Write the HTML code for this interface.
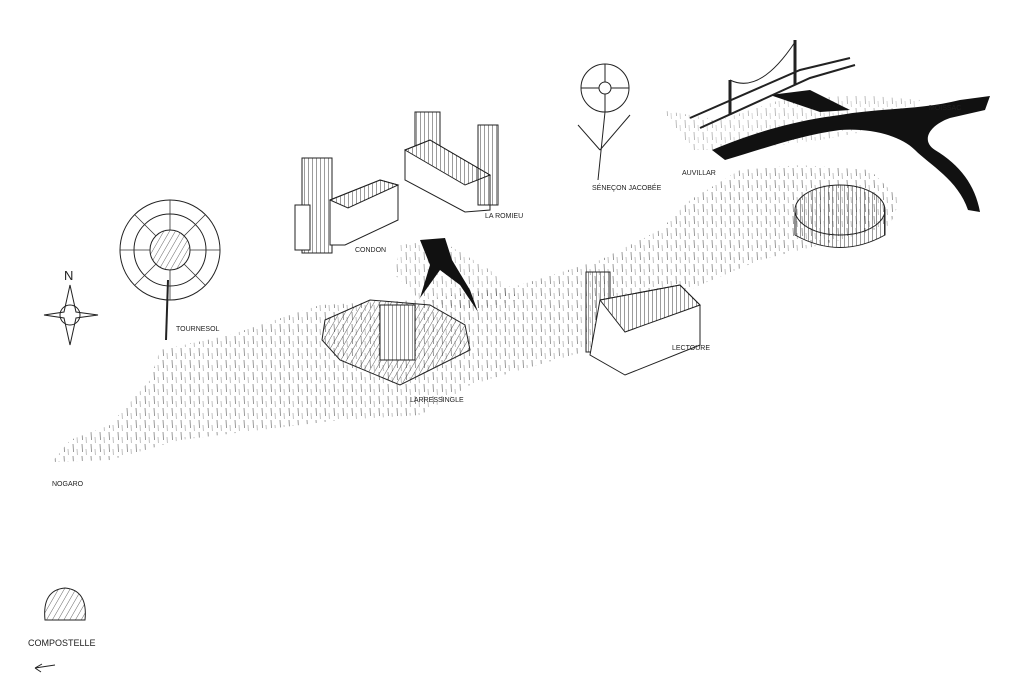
<!DOCTYPE html>
<html><head><meta charset="utf-8"><style>
html,body{margin:0;padding:0;background:#fff;}
svg{display:block}
text{font-family:"Liberation Sans",sans-serif;fill:#222}
</style></head><body>
<svg width="1024" height="683" viewBox="0 0 1024 683" xmlns="http://www.w3.org/2000/svg">
<defs>
<pattern id="h" width="9" height="12" patternUnits="userSpaceOnUse">
<line x1="1" y1="0" x2="1.5" y2="8" stroke="#333" stroke-width="0.8"/>
<line x1="5" y1="5" x2="5.3" y2="11" stroke="#555" stroke-width="0.6"/>
</pattern>
<pattern id="r" width="4" height="4" patternUnits="userSpaceOnUse">
<line x1="0" y1="0" x2="0" y2="4" stroke="#222" stroke-width="0.9"/>
</pattern>
<pattern id="d" width="5" height="5" patternUnits="userSpaceOnUse" patternTransform="rotate(30)">
<line x1="0" y1="0" x2="0" y2="5" stroke="#222" stroke-width="0.7"/>
</pattern>
</defs>
<rect width="1024" height="683" fill="#fff"/>
<!-- main band -->
<path d="M52,462 L70,440 L110,425 L150,380 L160,350 L230,335 L320,305 L420,300 L520,285 L600,260 L660,230 L690,200 L740,170 L800,165 L870,170 L900,200 L890,225 L840,240 L760,260 L700,285 L640,315 L590,350 L520,370 L470,385 L420,415 L340,420 L260,430 L180,440 L110,460 Z" fill="url(#h)" opacity="0.6"/>
<path d="M400,245 L440,240 L490,270 L520,300 L470,310 L420,300 L395,275 Z" fill="url(#h)" opacity="0.5"/>
<path d="M660,110 L720,120 L780,100 L860,95 L920,100 L900,125 L820,140 L740,150 L690,150 Z" fill="url(#h)" opacity="0.4"/>
<!-- rivers -->
<path d="M712,150 C760,130 800,120 840,115 C880,108 920,110 960,100 L990,96 L985,110 L950,118 C930,125 920,140 935,150 C960,165 975,185 980,212 L968,210 C958,180 930,165 915,150 C900,135 870,128 840,130 C800,135 760,150 725,160 Z" fill="#111"/>
<path d="M770,95 L810,90 L850,110 L820,112 Z" fill="#111"/>
<path d="M420,240 L445,238 L452,260 L470,290 L478,312 L460,285 L440,270 L420,298 L430,265 Z" fill="#111"/>
<!-- bridge -->
<path d="M690,118 L800,70 L850,58 M700,128 L810,78 L855,65" stroke="#222" stroke-width="2" fill="none"/>
<line x1="730" y1="80" x2="730" y2="115" stroke="#222" stroke-width="3"/>
<line x1="795" y1="40" x2="795" y2="85" stroke="#222" stroke-width="3"/>
<path d="M730,80 Q760,95 795,42" stroke="#222" fill="none"/>
<!-- sunflower -->
<line x1="168" y1="280" x2="166" y2="340" stroke="#222" stroke-width="2"/>
<g transform="translate(170,250)">
<circle r="50" fill="none" stroke="#222" stroke-width="1"/>
<circle r="36" fill="none" stroke="#222" stroke-width="1"/>
<circle r="20" fill="url(#d)" stroke="#222"/>
<g stroke="#333" stroke-width="0.8">
<line x1="0" y1="-20" x2="0" y2="-50"/><line x1="0" y1="20" x2="0" y2="50"/>
<line x1="-20" y1="0" x2="-50" y2="0"/><line x1="20" y1="0" x2="50" y2="0"/>
<line x1="14" y1="14" x2="35" y2="35"/><line x1="-14" y1="14" x2="-35" y2="35"/>
<line x1="14" y1="-14" x2="35" y2="-35"/><line x1="-14" y1="-14" x2="-35" y2="-35"/>
</g></g>
<!-- daisy -->
<g transform="translate(605,88)" stroke="#222">
<circle r="24" fill="none"/><circle r="6" fill="none"/>
<line x1="0" y1="-6" x2="0" y2="-24"/><line x1="0" y1="6" x2="0" y2="24"/>
<line x1="-6" y1="0" x2="-24" y2="0"/><line x1="6" y1="0" x2="24" y2="0"/>
</g>
<path d="M605,112 L598,180 M600,150 L578,125 M600,150 L630,115" stroke="#222" fill="none"/>
<!-- compass -->
<text x="64" y="280" font-size="13">N</text>
<path d="M70,285 L76,312 L98,315 L76,318 L70,345 L64,318 L44,315 L64,312 Z" fill="#fff" stroke="#222"/>
<circle cx="70" cy="315" r="10" fill="none" stroke="#222"/>
<!-- Condon -->
<g stroke="#222" fill="#fff">
<rect x="302" y="158" width="30" height="95" fill="url(#r)"/>
<path d="M330,200 L380,180 L398,185 L398,220 L345,245 L330,245 Z" fill="#fff"/>
<path d="M330,200 L380,180 L398,185 L348,208 Z" fill="url(#r)"/>
<rect x="295" y="205" width="15" height="45"/>
</g>
<!-- La Romieu -->
<g stroke="#222" fill="#fff">
<rect x="415" y="112" width="25" height="50" fill="url(#r)"/>
<path d="M405,150 L430,140 L490,175 L490,210 L465,212 L405,180 Z"/>
<path d="M405,150 L430,140 L490,175 L465,185 Z" fill="url(#r)"/>
<rect x="478" y="125" width="20" height="80" fill="url(#r)"/>
</g>
<!-- Larressingle -->
<g stroke="#222">
<path d="M325,320 L370,300 L430,305 L465,325 L470,350 L420,375 L400,385 L340,360 L322,340 Z" fill="url(#d)"/>
<rect x="380" y="305" width="35" height="55" fill="#fff"/>
<rect x="380" y="305" width="35" height="55" fill="url(#r)"/>
</g>
<!-- Lectoure -->
<g stroke="#222">
<rect x="586" y="272" width="24" height="80" fill="url(#r)"/>
<path d="M600,300 L680,285 L700,305 L700,345 L625,375 L590,355 Z" fill="#fff"/>
<path d="M600,300 L680,285 L700,305 L625,332 Z" fill="url(#r)"/>
</g>
<!-- Auvillar round -->
<g stroke="#222">
<ellipse cx="840" cy="210" rx="45" ry="25" fill="url(#r)"/>
<path d="M795,210 L795,235 Q840,260 885,235 L885,210" fill="url(#r)"/>
</g>
<!-- shell -->
<path d="M45,620 Q42,590 65,588 Q88,590 85,620 Z" fill="url(#d)" stroke="#222"/>
<path d="M55,665 L35,668 M35,668 L42,664 M35,668 L41,672" stroke="#222" fill="none"/>
<!-- labels -->
<g font-size="7">
<text x="52" y="486">NOGARO</text>
<text x="176" y="331">TOURNESOL</text>
<text x="355" y="252">CONDON</text>
<text x="485" y="218">LA ROMIEU</text>
<text x="410" y="402">LARRESSINGLE</text>
<text x="672" y="350">LECTOURE</text>
<text x="592" y="190">SÉNEÇON JACOBÉE</text>
<text x="682" y="175">AUVILLAR</text>
<text x="929" y="110">MOISSAC</text>
</g>
<text x="28" y="646" font-size="9">COMPOSTELLE</text>
</svg>
</body></html>
